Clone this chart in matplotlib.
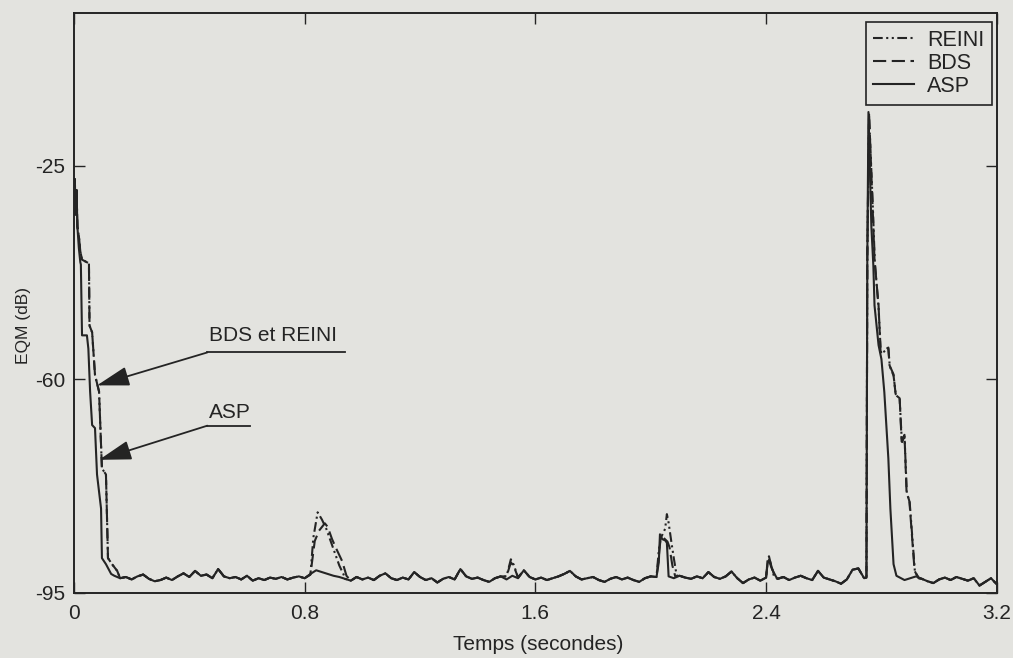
import numpy as np
import matplotlib
matplotlib.use("Agg")
import matplotlib.pyplot as plt

# ---------------------------------------------------------------
# Steady-state floor shared by all three algorithms (dB), every 20 ms
# ---------------------------------------------------------------
floor_t = np.round(np.arange(0.14, 3.2001, 0.02), 2)
floor_db = [
    -92.2, -92.6, -92.4, -92.8, -92.3, -92.0, -92.7, -93.1, -92.9, -92.5,
    -92.9, -92.3, -91.8, -92.4, -91.4, -92.2, -92.0, -92.6, -91.1, -92.3,
    -92.6, -92.4, -92.8, -92.2, -93.0, -92.6, -92.9, -92.5, -92.7, -92.4,
    -92.8, -92.5, -92.3, -92.6, -91.9, -91.3, -91.6, -91.9, -92.2, -92.4,
    -92.7, -93.0, -92.4, -92.8, -92.5, -92.9, -92.2, -91.8, -92.6, -92.9,
    -92.5, -92.8, -91.6, -92.4, -92.9, -92.6, -93.3, -92.7, -92.4, -92.8,
    -91.1, -92.3, -92.7, -92.5, -92.9, -93.2, -92.6, -92.3, -92.8, -92.2,
    -92.6, -91.3, -92.4, -92.8, -92.5, -92.9, -92.6, -92.3, -91.9, -91.4,
    -92.3, -92.8, -92.6, -92.4, -92.9, -93.2, -92.7, -92.4, -92.8, -92.5,
    -92.9, -93.2, -92.6, -92.3, -92.5, -91.8, -92.0, -92.6, -92.2, -92.5,
    -92.7, -92.3, -92.6, -91.6, -92.4, -92.7, -92.3, -91.5, -92.6, -93.4,
    -92.8, -92.5, -93.0, -92.6, -92.2, -92.7, -92.4, -92.9, -92.5, -92.2,
    -92.6, -92.9, -91.4, -92.5, -92.8, -93.1, -93.5, -92.8, -91.2, -91.0,
    -92.6, -92.4, -92.7, -92.5, -92.8, -92.6, -92.4, -92.9, -92.6, -92.3,
    -92.7, -93.1, -93.4, -92.8, -92.5, -92.9, -92.4, -92.7, -93.0, -92.6,
    -93.8, -93.2, -92.6, -93.6,
]

# ---------------------------------------------------------------
# Transients (time in s, EQM in dB)
# ---------------------------------------------------------------
# ASP
asp_start_t = [0.0, 0.003, 0.006, 0.009, 0.012, 0.017, 0.022, 0.024, 0.028,
               0.045, 0.050, 0.056, 0.063, 0.073, 0.080, 0.094, 0.097, 0.111, 0.129]
asp_start_db = [-28.5, -27.2, -33.0, -29.0, -35.0, -38.5, -40.8, -41.2, -52.8,
                -52.8, -55.0, -62.0, -67.5, -68.0, -75.6, -81.2, -89.3, -90.3, -91.9]
asp_b2_t = [2.020, 2.028, 2.032, 2.040, 2.050, 2.056, 2.062]
asp_b2_db = [-92.4, -90.0, -85.4, -86.2, -86.4, -86.8, -92.3]
asp_b3_t = [2.400, 2.405, 2.410, 2.418, 2.425, 2.435]
asp_b3_db = [-92.5, -90.2, -89.6, -90.8, -91.5, -92.4]
asp_jump_t = [2.748, 2.751, 2.755, 2.762, 2.765, 2.772, 2.776, 2.790, 2.800,
              2.810, 2.824, 2.831, 2.842, 2.852]
asp_jump_db = [-92.5, -40.0, -16.2, -29.5, -34.9, -41.4, -47.9, -54.4, -56.7,
               -62.1, -73.0, -81.2, -90.3, -92.2]

# BDS
bds_start_t = [0.0, 0.003, 0.006, 0.009, 0.012, 0.017, 0.022, 0.028, 0.052,
               0.054, 0.063, 0.073, 0.087, 0.097, 0.111, 0.118, 0.132, 0.150]
bds_start_db = [-28.5, -27.2, -33.0, -29.0, -35.0, -36.5, -39.0, -40.4, -41.0,
                -51.2, -52.3, -59.3, -62.0, -74.6, -75.6, -89.3, -90.3, -91.4]
bds_b1_t = [0.820, 0.835, 0.850, 0.870, 0.880, 0.895, 0.910, 0.930, 0.945]
bds_b1_db = [-92.0, -86.5, -84.8, -83.6, -84.2, -86.2, -87.8, -89.8, -92.2]
bds_b15_t = [1.500, 1.515, 1.525, 1.540]
bds_b15_db = [-92.3, -90.0, -90.6, -92.5]
bds_b2_t = [2.020, 2.028, 2.034, 2.045, 2.058, 2.065, 2.075, 2.085]
bds_b2_db = [-92.4, -89.0, -86.2, -86.0, -86.6, -87.5, -90.5, -92.3]
bds_b3_t = [2.400, 2.405, 2.412, 2.420, 2.430]
bds_b3_db = [-92.5, -90.0, -89.5, -90.9, -92.3]
bds_jump_t = [2.748, 2.751, 2.757, 2.769, 2.776, 2.790, 2.797, 2.824, 2.828,
              2.842, 2.849, 2.863, 2.870, 2.880, 2.887, 2.897, 2.915, 2.929]
bds_jump_db = [-92.5, -40.0, -16.4, -31.2, -40.4, -47.9, -55.6, -54.8, -57.7,
               -59.2, -62.4, -62.9, -70.2, -69.1, -78.4, -80.0, -91.4, -92.6]

# REINI
reini_start_t = bds_start_t
reini_start_db = bds_start_db
reini_b1_t = [0.820, 0.830, 0.845, 0.860, 0.875, 0.890, 0.905, 0.920, 0.935]
reini_b1_db = [-92.0, -86.0, -81.8, -83.0, -84.5, -86.5, -88.5, -90.5, -92.0]
reini_b15_t = [1.500, 1.515, 1.525, 1.540]
reini_b15_db = [-92.3, -89.5, -90.4, -92.5]
reini_b2_t = [2.020, 2.028, 2.035, 2.050, 2.056, 2.062, 2.072, 2.080, 2.090]
reini_b2_db = [-92.4, -88.0, -86.0, -84.5, -82.1, -83.5, -86.8, -89.3, -92.2]
reini_b3_t = [2.400, 2.405, 2.410, 2.418, 2.428]
reini_b3_db = [-92.5, -89.8, -89.0, -90.6, -92.4]
reini_jump_t = [2.748, 2.751, 2.757, 2.770, 2.777, 2.790, 2.798, 2.824, 2.829,
                2.842, 2.850, 2.863, 2.871, 2.880, 2.888, 2.898, 2.916, 2.930]
reini_jump_db = [-92.5, -40.0, -16.6, -31.5, -40.8, -48.2, -55.8, -55.0, -57.9,
                 -59.4, -62.6, -63.1, -70.4, -69.3, -78.6, -80.2, -91.5, -92.6]


def assemble(segments):
    """Insert transient segments into the shared floor trace."""
    t = np.asarray(floor_t, dtype=float)
    v = np.asarray(floor_db, dtype=float)
    keep = np.ones(t.size, dtype=bool)
    for st, _ in segments:
        keep &= ~((t >= st[0]) & (t <= st[-1]))
    ts = [t[keep]] + [np.asarray(st, float) for st, _ in segments]
    vs = [v[keep]] + [np.asarray(sv, float) for _, sv in segments]
    ts = np.concatenate(ts)
    vs = np.concatenate(vs)
    order = np.argsort(ts, kind="stable")
    return ts[order], vs[order]


asp_t, asp_db = assemble([(asp_start_t, asp_start_db), (asp_b2_t, asp_b2_db),
                          (asp_b3_t, asp_b3_db), (asp_jump_t, asp_jump_db)])
bds_t, bds_db = assemble([(bds_start_t, bds_start_db), (bds_b1_t, bds_b1_db),
                          (bds_b15_t, bds_b15_db), (bds_b2_t, bds_b2_db),
                          (bds_b3_t, bds_b3_db), (bds_jump_t, bds_jump_db)])
reini_t, reini_db = assemble([(reini_start_t, reini_start_db), (reini_b1_t, reini_b1_db),
                              (reini_b15_t, reini_b15_db), (reini_b2_t, reini_b2_db),
                              (reini_b3_t, reini_b3_db), (reini_jump_t, reini_jump_db)])

x_ticks = [0, 0.8, 1.6, 2.4, 3.2]
x_tick_labels = ["0", "0.8", "1.6", "2.4", "3.2"]
y_ticks = [-95, -60, -25]
y_tick_labels = ["-95", "-60", "-25"]

# ---------------------------------------------------------------
# Figure
# ---------------------------------------------------------------
plt.rcParams["font.family"] = ["Liberation Sans", "DejaVu Sans"]
plt.rcParams["lines.scale_dashes"] = False

paper = "#e3e3df"
ink = "#242424"

fig = plt.figure(figsize=(10.13, 6.58), dpi=100, facecolor=paper)
ax = fig.add_axes([0.073, 0.099, 0.911, 0.881], facecolor=paper)

lw = 1.5
ax.plot(reini_t, reini_db, color=ink, lw=lw, linestyle=(0, (7, 2.5, 1.5, 2.5, 1.5, 2.5)),
        label="REINI", zorder=2)
ax.plot(bds_t, bds_db, color=ink, lw=lw, linestyle=(0, (9.5, 4)), label="BDS", zorder=3)
ax.plot(asp_t, asp_db, color=ink, lw=lw, linestyle="-", label="ASP", zorder=4)

ax.set_xlim(0, 3.2)
ax.set_ylim(-95, 0)
ax.set_xticks(x_ticks)
ax.set_xticklabels(x_tick_labels)
ax.set_yticks(y_ticks)
ax.set_yticklabels(y_tick_labels)
ax.tick_params(direction="in", length=8, width=1.0, color=ink, labelsize=15,
               labelcolor=ink, top=True, right=True, pad=6)
ax.tick_params(axis="x", pad=8)
for s in ax.spines.values():
    s.set_color(ink)
    s.set_linewidth(1.4)

ax.set_xlabel("Temps (secondes)", fontsize=15, color=ink)
ax.set_ylabel("EQM (dB)", fontsize=12.5, color=ink)
ax.xaxis.set_label_coords(0.503, -0.072)
ax.yaxis.set_label_coords(-0.046, 0.462)

leg = ax.legend(loc="upper right", bbox_to_anchor=(0.9946, 0.9845), borderaxespad=0,
                fontsize=15.5, frameon=True, fancybox=False, framealpha=1,
                facecolor=paper, edgecolor=ink, handlelength=1.9, handletextpad=0.6,
                labelspacing=0.1, borderpad=0.35)
leg.get_frame().set_linewidth(1.2)
for txt in leg.get_texts():
    txt.set_color(ink)

# Callouts
arrow_kw = dict(arrowstyle="-|>,head_length=1.0,head_width=0.3", color=ink, lw=1.3,
                mutation_scale=20, shrinkA=0, shrinkB=0)
ax.plot([0.4626, 0.939], [-55.6, -55.6], color=ink, lw=1.3)
ax.annotate("", xy=(0.080, -61.0), xytext=(0.4626, -55.6), arrowprops=arrow_kw)
ax.text(0.468, -53.8, "BDS et REINI", fontsize=15, color=ink, ha="left", va="baseline")

ax.plot([0.4626, 0.609], [-67.6, -67.6], color=ink, lw=1.3)
ax.annotate("", xy=(0.087, -73.2), xytext=(0.4626, -67.6), arrowprops=arrow_kw)
ax.text(0.468, -66.3, "ASP", fontsize=15, color=ink, ha="left", va="baseline")

fig.savefig("out.png", dpi=100, facecolor=paper)
